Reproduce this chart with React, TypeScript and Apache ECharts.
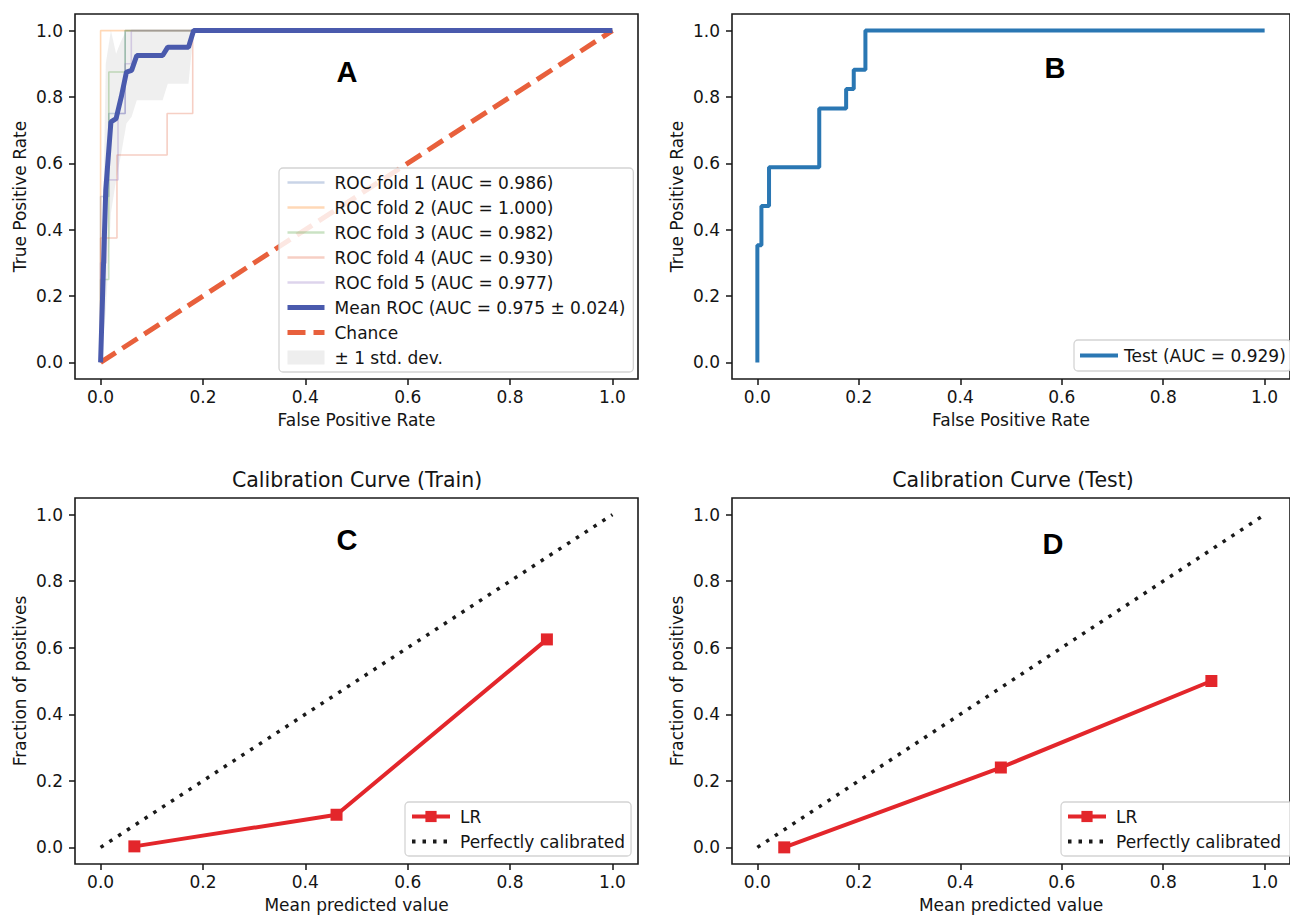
import React, { useEffect, useRef } from "react";
import * as echarts from "echarts";

const FONT = "DejaVu Sans";
const TXT = "#141414";
const FS = 17;

// tick labels (shared by all four panels)
const tickValues = [0, 0.2, 0.4, 0.6, 0.8, 1.0];

// Panel A: cross-validation ROC folds
const fold1Fpr = [0, 0, 0.016, 0.016, 0.048, 0.048, 1];
const fold1Tpr = [0, 0.5, 0.5, 0.75, 0.75, 1, 1];
const fold2Fpr = [0, 0, 1];
const fold2Tpr = [0, 1, 1];
const fold3Fpr = [0, 0, 0.016, 0.016, 0.048, 0.048, 1];
const fold3Tpr = [0, 0.25, 0.25, 0.875, 0.875, 1, 1];
const fold4Fpr = [0, 0, 0.032, 0.032, 0.13, 0.13, 0.18, 0.18, 1];
const fold4Tpr = [0, 0.375, 0.375, 0.625, 0.625, 0.75, 0.75, 1, 1];
const fold5Fpr = [0, 0, 0.011, 0.011, 0.034, 0.034, 0.048, 0.048, 0.06, 0.06, 1];
const fold5Tpr = [0, 0.3, 0.3, 0.55, 0.55, 0.75, 0.75, 0.9, 0.9, 1, 1];

const meanFpr = [0, 0.0101, 0.0202, 0.0303, 0.0404, 0.0505, 0.0606, 0.0707, 0.1212, 0.1313, 0.1717, 0.1818, 1.0];
const meanTpr = [0, 0.52, 0.725, 0.735, 0.8, 0.875, 0.88, 0.925, 0.925, 0.95, 0.95, 1.0, 1.0];
const bandLower = [0, 0.15, 0.45, 0.55, 0.63, 0.72, 0.74, 0.79, 0.79, 0.84, 0.84, 1.0, 1.0];
const bandUpper = [0, 0.9, 1.0, 0.93, 0.97, 1.0, 1.0, 1.0, 1.0, 1.0, 1.0, 1.0, 1.0];

const chanceX = [0, 1];
const chanceY = [0, 1];

// Panel B: test ROC
const testFpr = [0, 0, 0.008, 0.008, 0.023, 0.023, 0.122, 0.122, 0.175, 0.175, 0.19, 0.19, 0.213, 0.213, 1];
const testTpr = [0, 0.353, 0.353, 0.471, 0.471, 0.588, 0.588, 0.765, 0.765, 0.824, 0.824, 0.882, 0.882, 1, 1];

// Panels C / D: calibration curves
const trainPred = [0.066, 0.461, 0.872];
const trainFrac = [0.003, 0.098, 0.625];
const testPred = [0.053, 0.48, 0.895];
const testFrac = [0.0, 0.24, 0.5];

const pairs = (xs: number[], ys: number[]) => xs.map((x, i) => [x, ys[i]]);

const foldNames = [
  "ROC fold 1 (AUC = 0.986)",
  "ROC fold 2 (AUC = 1.000)",
  "ROC fold 3 (AUC = 0.982)",
  "ROC fold 4 (AUC = 0.930)",
  "ROC fold 5 (AUC = 0.977)",
];
const foldColors = ["#4c72b0", "#ff7f0e", "#4fa03a", "#e0603a", "#8e72c0"];
const foldData = [
  pairs(fold1Fpr, fold1Tpr),
  pairs(fold2Fpr, fold2Tpr),
  pairs(fold3Fpr, fold3Tpr),
  pairs(fold4Fpr, fold4Tpr),
  pairs(fold5Fpr, fold5Tpr),
];
const MEAN_NAME = "Mean ROC (AUC = 0.975 ± 0.024)";
const BAND_NAME = "± 1 std. dev.";
const TEST_NAME = "Test (AUC = 0.929)";

const xAxis = (gridIndex: number, name: string) => ({
  type: "value",
  gridIndex,
  min: -0.05,
  max: 1.05,
  name,
  nameLocation: "middle",
  nameGap: 32,
  nameTextStyle: { fontFamily: FONT, fontSize: FS, color: TXT },
  axisLine: { show: false, onZero: false },
  splitLine: { show: false },
  axisTick: { show: true, length: 6, customValues: tickValues, lineStyle: { color: TXT, width: 1.5 } },
  axisLabel: {
    customValues: tickValues,
    formatter: (v: number) => v.toFixed(1),
    fontFamily: FONT,
    fontSize: FS,
    color: TXT,
    margin: 9,
  },
});

const yAxis = (gridIndex: number, name: string) => ({
  type: "value",
  gridIndex,
  min: -0.05,
  max: 1.05,
  name,
  nameLocation: "middle",
  nameGap: 47,
  nameTextStyle: { fontFamily: FONT, fontSize: FS, color: TXT },
  axisLine: { show: false, onZero: false },
  splitLine: { show: false },
  axisTick: { show: true, length: 6, customValues: tickValues, lineStyle: { color: TXT, width: 1.5 } },
  axisLabel: {
    customValues: tickValues,
    formatter: (v: number) => v.toFixed(1),
    fontFamily: FONT,
    fontSize: FS,
    color: TXT,
    margin: 12,
  },
});

const legendBase = {
  orient: "vertical",
  itemWidth: 37,
  itemHeight: 14,
  itemGap: 8,
  selectedMode: false,
  backgroundColor: "rgba(255,255,255,0.85)",
  borderColor: "#d4d4d4",
  borderWidth: 1.3,
  borderRadius: 4,
  itemStyle: { opacity: 0 },
  textStyle: { fontFamily: FONT, fontSize: FS, color: TXT, lineHeight: 17, padding: [0, 0, 0, 5] },
};

const gridBase = { show: true, borderColor: "#1a1a1a", borderWidth: 1.6, backgroundColor: "transparent" };

export default function App() {
  const ref = useRef<HTMLDivElement>(null);
  useEffect(() => {
    if (!ref.current) return;
    const chart = echarts.init(ref.current, null, { renderer: "svg" });
    const series: any[] = [];
    foldData.forEach((d, i) => {
      series.push({
        type: "line",
        name: foldNames[i],
        xAxisIndex: 0,
        yAxisIndex: 0,
        data: d,
        symbol: "none",
        lineStyle: { color: foldColors[i], width: 1.6, opacity: 0.3 },
        itemStyle: { color: foldColors[i], opacity: 0.3 },
        z: 2,
      });
    });
    series.push({
      type: "custom",
      name: BAND_NAME,
      xAxisIndex: 0,
      yAxisIndex: 0,
      data: [[0, 0]],
      silent: true,
      z: 1,
      itemStyle: { color: "#efefef" },
      renderItem: (_p: any, api: any) => {
        const pts: number[][] = [];
        for (let i = 0; i < meanFpr.length; i++) pts.push(api.coord([meanFpr[i], bandUpper[i]]));
        for (let i = meanFpr.length - 1; i >= 0; i--) pts.push(api.coord([meanFpr[i], bandLower[i]]));
        return { type: "polygon", shape: { points: pts }, style: { fill: "rgba(128,128,128,0.13)" } };
      },
    });
    series.push({
      type: "line",
      name: "Chance",
      xAxisIndex: 0,
      yAxisIndex: 0,
      data: pairs(chanceX, chanceY),
      symbol: "none",
      lineStyle: { color: "#e8603c", width: 5, type: [18, 8] },
      itemStyle: { color: "#e8603c" },
      z: 3,
    });
    series.push({
      type: "line",
      name: MEAN_NAME,
      xAxisIndex: 0,
      yAxisIndex: 0,
      data: pairs(meanFpr, meanTpr),
      symbol: "none",
      lineStyle: { color: "#4a5aad", width: 5 },
      itemStyle: { color: "#4a5aad" },
      z: 4,
    });
    series.push({
      type: "line",
      name: TEST_NAME,
      xAxisIndex: 1,
      yAxisIndex: 1,
      data: pairs(testFpr, testTpr),
      symbol: "none",
      lineStyle: { color: "#2a77b3", width: 4 },
      itemStyle: { color: "#2a77b3" },
    });
    const calib = (idx: number, xs: number[], ys: number[], suffix: string) => {
      series.push({
        type: "line",
        name: "Perfectly calibrated" + suffix,
        xAxisIndex: idx,
        yAxisIndex: idx,
        data: pairs(chanceX, chanceY),
        symbol: "none",
        lineStyle: { color: "#1a1a1a", width: 3.5, type: [3.5, 7] },
        itemStyle: { color: "#1a1a1a" },
      });
      series.push({
        type: "line",
        name: "LR" + suffix,
        xAxisIndex: idx,
        yAxisIndex: idx,
        data: pairs(xs, ys),
        symbol: "rect",
        symbolSize: 12,
        showSymbol: true,
        lineStyle: { color: "#e3262b", width: 4 },
        itemStyle: { color: "#e3262b" },
        z: 3,
      });
    };
    calib(2, trainPred, trainFrac, "");
    calib(3, testPred, testFrac, " ");

    const letter = (t: string, x: number, y: number) => ({
      type: "text",
      x,
      y,
      style: { text: t, font: 'bold 29px "Liberation Sans"', fill: "#000", align: "center", verticalAlign: "middle" },
      z: 10,
    });
    const title = (t: string, x: number, y: number) => ({
      type: "text",
      x,
      y,
      style: { text: t, font: `20.5px "${FONT}"`, fill: TXT, align: "center", verticalAlign: "middle" },
    });
    const calibLegend = (suffix: string) => [
      { name: "LR" + suffix, itemStyle: { opacity: 1 }, lineStyle: { width: 4 } },
      { name: "Perfectly calibrated" + suffix, lineStyle: { width: 4 } },
    ];

    chart.setOption({
      animation: false,
      backgroundColor: "#ffffff",
      grid: [
        { ...gridBase, left: 75, top: 14, width: 563, height: 365 },
        { ...gridBase, left: 732, top: 14, width: 563, height: 365 },
        { ...gridBase, left: 75, top: 498, width: 563, height: 366 },
        { ...gridBase, left: 732, top: 498, width: 563, height: 366 },
      ],
      xAxis: [
        xAxis(0, "False Positive Rate"),
        xAxis(1, "False Positive Rate"),
        xAxis(2, "Mean predicted value"),
        xAxis(3, "Mean predicted value"),
      ],
      yAxis: [
        yAxis(0, "True Positive Rate"),
        yAxis(1, "True Positive Rate"),
        yAxis(2, "Fraction of positives"),
        yAxis(3, "Fraction of positives"),
      ],
      legend: [
        {
          ...legendBase,
          left: 279,
          top: 168,
          padding: [6, 8, 6, 6],
          data: [
            ...foldNames.map((n) => ({ name: n, lineStyle: { width: 2.5 } })),
            { name: MEAN_NAME, lineStyle: { width: 5 } },
            { name: "Chance", lineStyle: { width: 5 } },
            { name: BAND_NAME, icon: "rect", itemStyle: { color: "#eeeeee", opacity: 1 } },
          ],
        },
        {
          ...legendBase,
          left: 1074,
          top: 340,
          itemWidth: 38,
          padding: [7, 5, 7, 4],
          textStyle: { ...legendBase.textStyle, padding: [0, 0, 0, 1] },
          data: [{ name: TEST_NAME, lineStyle: { width: 4 } }],
        },
        { ...legendBase, left: 405, top: 802, itemWidth: 38, padding: [6, 6, 6, 5], data: calibLegend("") },
        { ...legendBase, left: 1061, top: 802, itemWidth: 38, padding: [6, 6, 6, 5], data: calibLegend(" ") },
      ],
      graphic: [
        letter("A", 347, 72),
        letter("B", 1055, 68),
        letter("C", 347, 540),
        letter("D", 1053, 544),
        title("Calibration Curve (Train)", 357, 480),
        title("Calibration Curve (Test)", 1013, 480),
      ],
      series,
    });
    return () => chart.dispose();
  }, []);
  return (
    <div
      ref={ref}
      style={{ position: "absolute", left: 0, top: 0, width: 1290, height: 915, background: "#fff", overflow: "hidden" }}
    />
  );
}
